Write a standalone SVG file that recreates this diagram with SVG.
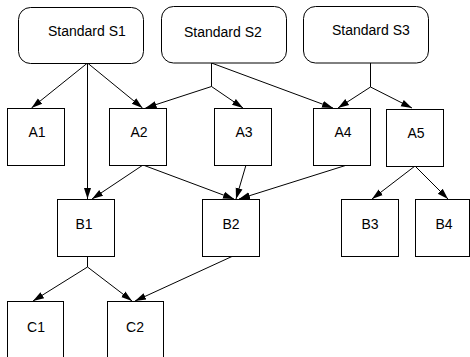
<svg xmlns="http://www.w3.org/2000/svg" width="470" height="357" viewBox="0 0 470 357">
<defs>
<style>
.std rect{fill:#fff;stroke:#000;stroke-width:1}
.box rect{fill:#fff;stroke:#000;stroke-width:1}
text{font-family:"Liberation Sans",Arial,sans-serif;font-size:14px;fill:#000}
.box text{text-anchor:middle}
.conn line,.conn polyline{fill:none;stroke:#000;stroke-width:1}
.arr{marker-end:url(#ah)}
</style>
<marker id="ah" markerUnits="userSpaceOnUse" markerWidth="12" markerHeight="10" viewBox="0 0 12 10" refX="11" refY="5" orient="auto">
<path d="M0,1.5 L11,5 L0,8.5 z" fill="#000"/>
</marker>
</defs>
<rect width="470" height="357" fill="#fff"/>
<g class="conn">
<line class="arr" x1="87.5" y1="63" x2="31.5" y2="108"/>
<line class="arr" x1="87.5" y1="63" x2="142.5" y2="108"/>
<line class="arr" x1="87.5" y1="63" x2="87.5" y2="199"/>
<line x1="211.5" y1="63" x2="211.5" y2="86.5"/>
<line class="arr" x1="211.5" y1="86.5" x2="145.5" y2="108"/>
<line class="arr" x1="211.5" y1="86.5" x2="243" y2="108"/>
<line class="arr" x1="211.5" y1="63" x2="333" y2="108"/>
<line x1="370.5" y1="63" x2="370.5" y2="87"/>
<line class="arr" x1="370.5" y1="87" x2="338" y2="108"/>
<line class="arr" x1="370.5" y1="87" x2="412" y2="108"/>
<line class="arr" x1="143" y1="165" x2="92" y2="199"/>
<line class="arr" x1="143" y1="165" x2="234" y2="199"/>
<line class="arr" x1="246" y1="165" x2="236" y2="199"/>
<line class="arr" x1="347" y1="165" x2="239" y2="199"/>
<line class="arr" x1="415" y1="166" x2="372" y2="199"/>
<line class="arr" x1="415" y1="166" x2="448" y2="199"/>
<line x1="87.5" y1="256" x2="87.5" y2="267"/>
<line class="arr" x1="87.5" y1="267" x2="33" y2="301"/>
<line class="arr" x1="87.5" y1="267" x2="132" y2="301"/>
<line class="arr" x1="233" y1="256" x2="135" y2="301"/>
</g>
<g id="S1" class="std"><rect x="18.5" y="7.5" width="125" height="56" rx="12"/><text x="48" y="36">Standard S1</text></g>
<g id="S2" class="std"><rect x="161.5" y="6.5" width="125" height="56.5" rx="12"/><text x="184" y="36.5">Standard S2</text></g>
<g id="S3" class="std"><rect x="303.5" y="6.5" width="125" height="56.5" rx="12"/><text x="332" y="35">Standard S3</text></g>
<g id="A1" class="box"><rect x="7.5" y="108.5" width="57" height="57"/><text x="37" y="137">A1</text></g>
<g id="A2" class="box"><rect x="109.5" y="108.5" width="57" height="57"/><text x="139" y="137">A2</text></g>
<g id="A3" class="box"><rect x="214.5" y="108.5" width="57" height="57"/><text x="244" y="137">A3</text></g>
<g id="A4" class="box"><rect x="313.5" y="108.5" width="57" height="57"/><text x="343" y="137">A4</text></g>
<g id="A5" class="box"><rect x="386.5" y="109.5" width="57" height="57"/><text x="416" y="138">A5</text></g>
<g id="B1" class="box"><rect x="57.5" y="199.5" width="57" height="57"/><text x="84" y="229">B1</text></g>
<g id="B2" class="box"><rect x="202.5" y="199.5" width="57" height="57"/><text x="231" y="229">B2</text></g>
<g id="B3" class="box"><rect x="341.5" y="199.5" width="57" height="57"/><text x="370" y="229">B3</text></g>
<g id="B4" class="box"><rect x="415.5" y="199.5" width="54" height="57"/><text x="444" y="229">B4</text></g>
<g id="C1" class="box"><rect x="7.5" y="301.5" width="56" height="70"/><text x="36" y="332">C1</text></g>
<g id="C2" class="box"><rect x="107.5" y="301.5" width="56" height="70"/><text x="135" y="332">C2</text></g>
</svg>
